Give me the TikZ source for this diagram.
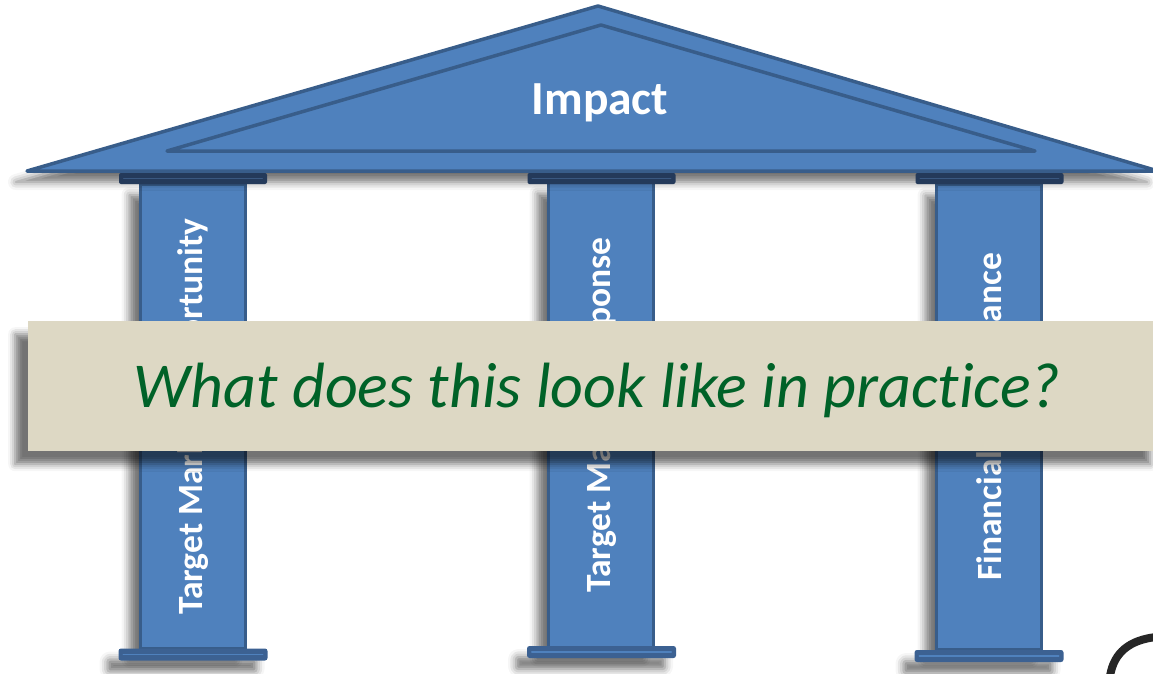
\documentclass[tikz,border=0pt]{standalone}
\usepackage{fontspec}
\setmainfont[Ligatures=NoCommon]{Carlito}
\usetikzlibrary{shadows.blur}
\definecolor{roofblue}{RGB}{79,129,189}
\definecolor{edgeblue}{RGB}{56,93,138}
\definecolor{capnavy}{RGB}{36,58,90}
\definecolor{capline}{RGB}{58,88,128}
\definecolor{basefill}{RGB}{60,97,146}
\definecolor{bannerbg}{RGB}{221,216,196}
\definecolor{bannergreen}{RGB}{0,98,40}
\tikzset{
  soft/.style={blur shadow={shadow xshift=-11pt, shadow yshift=-11pt, shadow blur radius=8pt, shadow opacity=55}},
  shaft/.style={rectangle, fill=roofblue, draw=edgeblue, line width=3.5pt, minimum width=105pt, minimum height=465pt, inner sep=0pt},
  capital/.style={rectangle, rounded corners=2pt, fill=capnavy, minimum width=148pt, minimum height=11pt, inner sep=0pt},
  plinth/.style={rectangle, rounded corners=2.5pt, fill=basefill, minimum width=149pt, minimum height=12pt, inner sep=0pt},
  pillartext/.style={text=white, font=\bfseries\fontsize{35.5}{38}\selectfont, rotate=90},
  trim/.style={line width=1.5pt, line cap=round},
}
\begin{document}
\begin{tikzpicture}[x=1pt,y=-1pt]
\useasboundingbox (0,0) rectangle (1153,673);

% pillar shafts
\node[shaft, soft] (col1) at (193,416.5) {};
\node[shaft, soft] (col2) at (601,415) {};
\node[shaft, soft] (col3) at (989,417) {};

% column labels
\node[pillartext] (lab1) at (col1.center) {Target Market Opportunity};
\node[pillartext] (lab2) at (col2.center) {Target Market Response};
\node[pillartext] (lab3) at (col3.center) {Financial Performance};

% roof (pediment)
\path[soft, fill=roofblue] (27,171) -- (598,6) -- (1158,171) -- cycle;
\draw[fill=roofblue, draw=edgeblue, line width=3.5pt, line join=round] (27,171) -- (598,6) -- (1158,171) -- cycle;
\draw[draw=edgeblue, line width=3.5pt, line join=round, line cap=round] (167,151) -- (601,25) -- (1035,151) -- cycle;
\node[text=white, font=\bfseries\fontsize{47.5}{52}\selectfont, anchor=base] (impact) at (600,114) {Impact};

% capitals
\node[capital] (cap1) at (193,178.5) {};
\node[capital] (cap2) at (601.5,178.5) {};
\node[capital] (cap3) at (989.5,178.5) {};
\foreach \c in {cap1,cap2,cap3}
  \draw[capline, trim] ([xshift=5pt]\c.west) -- ([xshift=-5pt]\c.east);

% bases
\node[plinth, soft] (base1) at (193,654.5) {};
\node[plinth, soft] (base2) at (601.5,652) {};
\node[plinth, soft] (base3) at (989,656) {};
\foreach \b in {base1,base2,base3}
  \draw[roofblue, trim] ([xshift=5pt]\b.west) -- ([xshift=-5pt]\b.east);

% question banner
\node[rectangle, fill=bannerbg, minimum width=1135pt, minimum height=130pt, inner sep=0pt, anchor=north west,
  blur shadow={shadow xshift=-13pt, shadow yshift=-13pt, shadow blur radius=7pt, shadow opacity=55}] (banner) at (28,321) {};
\node[text=bannergreen, font=\itshape\fontsize{64}{70}\selectfont, anchor=base] (question) at (597,407) {What does this look like in practice?};

% corner of a sketched ring
\draw[black, line width=8pt, line cap=round, opacity=0.85] (1110,676) .. controls (1114,652) and (1130,640) .. (1156,637);
\end{tikzpicture}
\end{document}
